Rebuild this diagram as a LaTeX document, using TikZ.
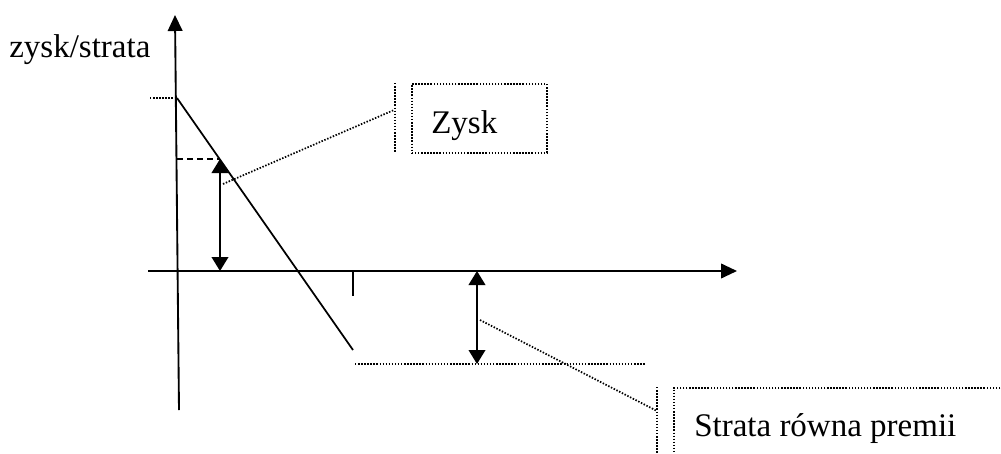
\documentclass[tikz,border=0pt]{standalone}
\usepackage{fontspec}
\setmainfont{Liberation Serif}
\usetikzlibrary{arrows.meta}
\begin{document}
\begin{tikzpicture}[x=0.75pt,y=-0.75pt,
  axis/.style={line width=1.4pt},
  solidline/.style={line width=1.3pt},
  dotline/.style={line width=1.3pt, dash pattern=on 1.1pt off 1.2pt},
  dashline/.style={line width=1.2pt, dash pattern=on 4.5pt off 3pt},
  axistip/.style={-{Triangle[length=12pt,width=11pt]}},
  bothtips/.style={{Triangle[length=10.5pt,width=12.5pt]}-{Triangle[length=10.5pt,width=12.5pt]}},
  txt/.style={inner sep=0pt, anchor=base west, font=\fontsize{24.75}{30}\selectfont},
  callbox/.style={dotline, draw, inner sep=0pt, anchor=north west}]
\useasboundingbox (0,0) rectangle (1001,454);
\clip (0,0) rectangle (1001,454);

% axes
\coordinate (ybot) at (179,410);
\coordinate (ytop) at (175,15);
\coordinate (xl) at (148,271);
\coordinate (xr) at (737,271);
\draw[axis,axistip] (ybot) -- (ytop);
\draw[axis,axistip] (xl) -- (xr);
\node[txt] (ylabel) at (9,57) {zysk/strata};

% profit/loss line
\coordinate (ltop) at (177,98);
\coordinate (lend) at (353,350);
\coordinate (lmark) at (150,98);
\draw[solidline] (ltop) -- (lend);
\draw[dotline] (lmark) -- (ltop);

% tick on the horizontal axis
\coordinate (tick0) at (353,271);
\coordinate (tick1) at (353,296);
\draw[solidline] (tick0) -- (tick1);

% profit arrow
\coordinate (pa0) at (177,159);
\coordinate (pa1) at (220,159);
\coordinate (pa2) at (220,271);
\draw[dashline] (pa0) -- (pa1);
\draw[solidline,bothtips] (pa1) -- (pa2);

% loss arrow
\coordinate (la0) at (477,271);
\coordinate (la1) at (477,364);
\coordinate (lb0) at (355,364);
\coordinate (lb1) at (645,364);
\draw[dotline] (lb0) -- (lb1);
\draw[solidline,bothtips] (la0) -- (la1);

% callout "Zysk"
\node[callbox, minimum width=101.25pt, minimum height=51.75pt] (zbox) at (411,83) {};
\coordinate (zbar0) at (395,83);
\coordinate (zbar1) at (395,152);
\coordinate (zlead0) at (223,184);
\coordinate (zlead1) at (394,110);
\draw[dotline] (zbar0) -- (zbar1);
\draw[dotline] (zlead0) -- (zlead1);
\node[txt] (zysk) at (431,133) {Zysk};

% callout "Strata równa premii"
\node[callbox, minimum width=262pt, minimum height=75pt] (sbox) at (673,387) {};
\coordinate (sbar0) at (657,387);
\coordinate (sbar1) at (657,460);
\coordinate (slead0) at (480,320);
\coordinate (slead1) at (657,411);
\draw[dotline] (sbar0) -- (sbar1);
\draw[dotline] (slead0) -- (slead1);
\node[txt] (strata) at (694,436) {Strata równa premii};
\end{tikzpicture}
\end{document}
